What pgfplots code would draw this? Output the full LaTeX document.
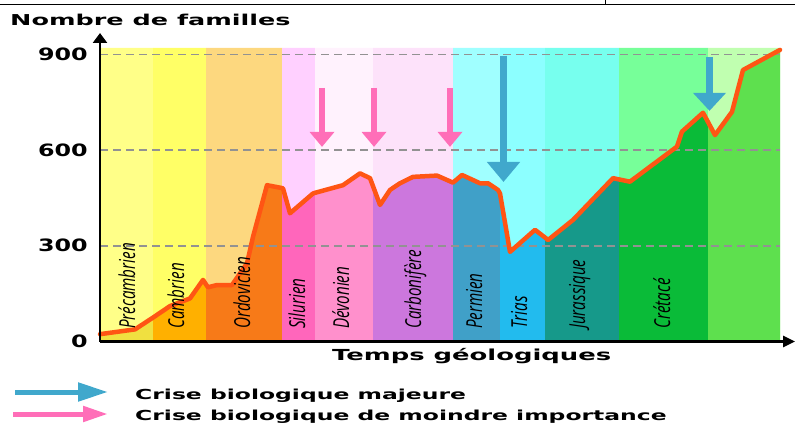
\documentclass[border=0pt]{standalone}
\usepackage{fontspec}
\setmainfont{DejaVu Sans}
\newfontfamily\widefont[FakeStretch=1.7]{DejaVu Sans}
\newfontfamily\numfont[FakeStretch=1.4]{DejaVu Sans}
\newfontfamily\perfont[FakeStretch=0.69]{Open Sans}
\usepackage{pgfplots}
\usepackage{pgfplotstable}
\pgfplotsset{compat=1.18}
\usetikzlibrary{arrows.meta}

\definecolor{preU}{HTML}{FFFF88}\definecolor{preD}{HTML}{F0E040}
\definecolor{camU}{HTML}{FFFF66}\definecolor{camD}{HTML}{FFB000}
\definecolor{ordU}{HTML}{FDD87F}\definecolor{ordD}{HTML}{F77A18}
\definecolor{silU}{HTML}{FFD0FF}\definecolor{silD}{HTML}{FF66BB}
\definecolor{devU}{HTML}{FFF2FD}\definecolor{devD}{HTML}{FF90CC}
\definecolor{carU}{HTML}{FDE2FA}\definecolor{carD}{HTML}{CC77DD}
\definecolor{perU}{HTML}{A0FFFF}\definecolor{perD}{HTML}{40A0C8}
\definecolor{triU}{HTML}{8CFFFF}\definecolor{triD}{HTML}{22BBEE}
\definecolor{jurU}{HTML}{77FFEE}\definecolor{jurD}{HTML}{16998A}
\definecolor{creU}{HTML}{77FF99}\definecolor{creD}{HTML}{0ABB38}
\definecolor{terU}{HTML}{C0FFB0}\definecolor{terD}{HTML}{5EE04E}
\definecolor{curveC}{HTML}{FF5514}
\definecolor{pinkA}{HTML}{FF6EB8}
\definecolor{blueA}{HTML}{40A8CC}
\definecolor{gridC}{HTML}{929292}

% curve (x in picture units along the time axis)
\pgfplotstableread{
x y
100 23
135 38
153 75
170 111
190 135
203 193
206 179
208 170
217 177
232 177
247 245
253 328
267 490
282 481
283 480
290 402
313 464
315 466
343 490
360 527
370 512
373 487
380 428
390 475
400 496
413 516
437 520
453 498
462 522
480 496
488 496
498 475
500 464
510 281
535 350
545 326
548 318
573 381
613 512
619 508
630 501
677 611
682 658
703 717
708 688
715 647
732 720
743 851
780 914
}\famdata

\newcommand{\band}[3]{\addplot[fill=#1, draw=none] coordinates {(#2,0)(#2,920)(#3,920)(#3,0)} \closedcycle;}
\newcommand{\lowband}[3]{\addplot[fill=#1, draw=none, restrict x to domain=#2:#3] table[x=x,y=y] {\famdata} \closedcycle;}
\newcommand{\per}[2]{\node[rotate=90, anchor=base west, inner sep=0pt, font=\perfont\itshape\fontsize{22}{22}\selectfont] at (axis cs:#1,39) {#2};}

\begin{document}
\begin{tikzpicture}
\useasboundingbox (0,0) rectangle (795pt,426pt);
\draw[line width=1pt] (0,421pt) -- (795pt,421pt);
\draw[line width=1pt] (605pt,421pt) -- (605pt,426pt);
\begin{axis}[
  at={(100pt,84.5pt)}, anchor=south west,
  scale only axis, width=695pt, height=308.5pt,
  xmin=100, xmax=795, ymin=0, ymax=967,
  axis lines=left, axis on top,
  axis line style={line width=2.5pt},
  x axis line style={-{Triangle[length=12pt,width=11pt]}},
  y axis line style={-{Triangle[length=10pt,width=14pt]}},
  xtick=\empty, ytick={0,300,600,900}, yticklabels={0,300,600,900},
  major tick length=0pt,
  yticklabel style={font=\numfont\bfseries\fontsize{17}{17}\selectfont, anchor=east, inner sep=0pt, xshift=-12pt},
  clip=false]
\band{preU}{100}{153}
\band{camU}{153}{206}
\band{ordU}{206}{282}
\band{silU}{282}{315}
\band{devU}{315}{373}
\band{carU}{373}{453}
\band{perU}{453}{500}
\band{triU}{500}{545}
\band{jurU}{545}{619}
\band{creU}{619}{708}
\band{terU}{708}{780}
\lowband{preD}{100}{153}
\lowband{camD}{153}{206}
\lowband{ordD}{206}{282}
\lowband{silD}{282}{315}
\lowband{devD}{315}{373}
\lowband{carD}{373}{453}
\lowband{perD}{453}{500}
\lowband{triD}{500}{545}
\lowband{jurD}{545}{619}
\lowband{creD}{619}{708}
\lowband{terD}{708}{780}
\addplot[gridC, line width=1.7pt, dash pattern=on 8pt off 5pt, no marks] coordinates {(100,300)(780,300)};
\addplot[gridC, line width=1.7pt, dash pattern=on 8pt off 5pt, no marks] coordinates {(100,600)(780,600)};
\addplot[gridC, line width=1.7pt, dash pattern=on 8pt off 5pt, no marks] coordinates {(100,900)(780,900)};
\addplot[curveC, line width=4.5pt, line join=round, line cap=round, no marks] table[x=x,y=y] {\famdata};
\addplot[pinkA, line width=6.5pt, no marks, -{Triangle[length=15pt,width=24pt]}] coordinates {(322,795)(322,610)};
\addplot[pinkA, line width=6.5pt, no marks, -{Triangle[length=15pt,width=24pt]}] coordinates {(374,795)(374,610)};
\addplot[pinkA, line width=6.5pt, no marks, -{Triangle[length=15pt,width=24pt]}] coordinates {(450,795)(450,610)};
\addplot[blueA, line width=7pt, no marks, -{Triangle[length=20pt,width=32pt]}] coordinates {(503.5,895)(503.5,500)};
\addplot[blueA, line width=7pt, no marks, -{Triangle[length=18pt,width=32pt]}] coordinates {(709.5,892)(709.5,723)};
\per{135}{Précambrien}
\per{184}{Cambrien}
\per{250}{Ordovicien}
\per{305}{Silurien}
\per{349}{Dévonien}
\per{421}{Carbonifère}
\per{482}{Permien}
\per{527}{Trias}
\per{585}{Jurassique}
\per{670}{Crétacé}
\end{axis}
\node[anchor=base west, inner sep=0pt, font=\widefont\bfseries\fontsize{15}{15}\selectfont] at (10pt,400pt) {Nombre de familles};
\node[anchor=base west, inner sep=0pt, font=\widefont\bfseries\fontsize{15.2}{15.2}\selectfont] at (332pt,66pt) {Temps géologiques};
\node[anchor=base west, inner sep=0pt, font=\widefont\bfseries\fontsize{13.8}{13.8}\selectfont] at (135pt,27pt) {Crise biologique majeure};
\node[anchor=base west, inner sep=0pt, font=\widefont\bfseries\fontsize{13.8}{13.8}\selectfont] at (135pt,6pt) {Crise biologique de moindre importance};
\draw[blueA, line width=5pt, -{Triangle[length=30pt,width=18pt]}] (15pt,34pt) -- (108pt,34pt);
\draw[pinkA, line width=5pt, -{Triangle[length=25pt,width=15pt]}] (13pt,12pt) -- (108pt,12pt);
\end{tikzpicture}
\end{document}
